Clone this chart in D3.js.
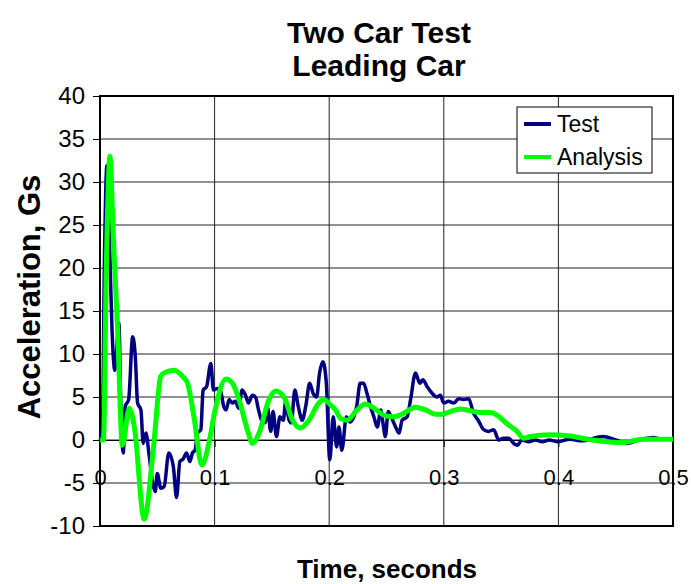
<!DOCTYPE html>
<html>
<head>
<meta charset="utf-8">
<script src="https://cdn.jsdelivr.net/npm/d3@7"></script>
<style>
  body { margin: 0; background: #fff; }
  text { font-family: "Liberation Sans", Arial, sans-serif; }
</style>
</head>
<body>
<div class="chart"></div>
<script>
// tick values
var xTicks = [0, 0.1, 0.2, 0.3, 0.4, 0.5];
var yTicks = [-10, -5, 0, 5, 10, 15, 20, 25, 30, 35, 40];

// Test series (time in s, acceleration in Gs)
var testTime = [0, 0.002, 0.004, 0.006, 0.0085, 0.0105, 0.013, 0.0165, 0.018, 0.0203,
    0.022, 0.025, 0.0285, 0.0308, 0.0328, 0.0357, 0.0377, 0.040, 0.043, 0.046,
    0.0482, 0.050, 0.053, 0.056, 0.060, 0.064, 0.0668, 0.0697, 0.0726, 0.0755,
    0.0784, 0.0807, 0.083, 0.085, 0.088, 0.090, 0.093, 0.0967, 0.099, 0.1025,
    0.105, 0.108, 0.110, 0.1127, 0.1155, 0.118, 0.121, 0.124, 0.127, 0.1295,
    0.133, 0.136, 0.138, 0.141, 0.144, 0.146, 0.149, 0.151, 0.154, 0.157,
    0.160, 0.162, 0.165, 0.167, 0.170, 0.173, 0.1765, 0.1795, 0.183, 0.186,
    0.189, 0.1916, 0.1945, 0.1975, 0.2005, 0.2035, 0.2065, 0.2085, 0.211, 0.215,
    0.218, 0.2215, 0.224, 0.227, 0.230, 0.233, 0.236, 0.239, 0.242, 0.245,
    0.247, 0.249, 0.2515, 0.254, 0.258, 0.261, 0.2636, 0.268, 0.271, 0.2753,
    0.279, 0.2817, 0.2855, 0.290, 0.294, 0.297, 0.300, 0.304, 0.3087, 0.313,
    0.3174, 0.3217, 0.326, 0.330, 0.3348, 0.339, 0.3435, 0.348, 0.352, 0.3565,
    0.361, 0.3644, 0.368, 0.374, 0.380, 0.386, 0.392, 0.3997, 0.41, 0.42,
    0.439, 0.45, 0.4596, 0.47, 0.483, 0.49];
var testAccel = [0, 1, 22, 31.9, 22, 12.8, 8.1, 13.6, 5, -1.5,
    3.9, 4.7, 12.0, 9.7, 4.3, 3.5, -0.4, 0.8, -1.9, -5.0,
    -6.0, -3.9, -5.6, -5.4, -1.5, -3.1, -6.7, -2.5, -2.2, -1.5,
    -2.5, -1.5, -1.2, 0.8, 1.2, 5.8, 6.2, 8.9, 5.8, 6.0,
    5.8, 3.9, 3.5, 4.7, 4.3, 4.5, 3.7, 5.8, 5.2, 4.3,
    5.2, 4.9, 3.7, 2.3, 2.0, 3.9, 1.0, 3.3, 0.4, 2.7,
    2.3, 4.5, 2.3, 2.0, 5.8, 3.9, 2.3, 3.9, 6.6, 5.4,
    5.0, 7.8, 9.1, 6.6, -2.3, 2.7, -0.8, 1.5, -1.2, 2.7,
    2.1, 2.7, 3.9, 6.6, 6.6, 5.4, 3.9, 2.7, 1.5, 3.5,
    1.9, 0.4, 3.3, 2.7, 1.5, 0.8, 2.3, 2.7, 4.7, 7.8,
    6.6, 7.0, 6.2, 5.4, 5.0, 5.2, 4.3, 4.5, 4.3, 4.8,
    4.7, 4.8, 3.1, 2.3, 1.2, 1.0, 1.2, 0, 0.2, 0.2,
    -0.4, -0.6, 0, -0.2, 0, -0.2, 0, -0.2, 0.1, -0.1,
    0.4, 0, -0.4, 0, 0.3, 0];

// Analysis series
var analysisTime = [0, 0.003, 0.0055, 0.0087, 0.0115, 0.0154, 0.0195, 0.0256, 0.030, 0.0386,
    0.047, 0.053, 0.0575, 0.0648, 0.072, 0.0764, 0.082, 0.0889, 0.095, 0.1005,
    0.1098, 0.1156, 0.1213, 0.1286, 0.133, 0.1388, 0.1475, 0.1533, 0.1606, 0.168,
    0.175, 0.1823, 0.191, 0.1954, 0.201, 0.2056, 0.21, 0.2158, 0.223, 0.2317,
    0.239, 0.2476, 0.2563, 0.265, 0.2753, 0.284, 0.2927, 0.2985, 0.3057, 0.3145,
    0.3232, 0.332, 0.3406, 0.3464, 0.355, 0.3639, 0.3696, 0.3754, 0.3929, 0.408,
    0.430, 0.456, 0.474, 0.5];
var analysisAccel = [0, 0, 20, 33, 24, 12.8, -0.6, 3.7, 1.5, -9.2,
    -0.4, 7.4, 7.9, 8.1, 7.4, 6.6, 2.7, -2.9, -0.4, 3.5,
    7.1, 6.6, 4.7, 1.2, -0.4, 0.8, 4.7, 5.7, 5.0, 2.3,
    1.4, 2.3, 4.3, 4.7, 4.1, 3.5, 2.5, 2.3, 3.3, 4.2,
    3.7, 2.9, 2.7, 3.1, 3.8, 3.5, 3.0, 3.0, 3.3, 3.6,
    3.4, 3.2, 3.2, 2.9, 1.9, 1.0, 0.2, 0.4, 0.6, 0.5,
    0, -0.3, 0.1, 0.1];

var seriesNames = ["Test", "Analysis"];
var seriesColors = ["#000080", "#00ff00"];

function zip(ts, vs) {
    return ts.map(function (t, i) { return { t: t, v: vs[i] }; });
}

function drawChart() {
    var series = [
        { name: seriesNames[0], color: seriesColors[0], width: 3.5, values: zip(testTime, testAccel) },
        { name: seriesNames[1], color: seriesColors[1], width: 5, values: zip(analysisTime, analysisAccel) }
    ];

    var W = 691, H = 584;
    var pl = 100, pr = 673, pt = 96, pb = 526;

    var svg = d3.select(".chart").append("svg")
        .attr("width", W).attr("height", H);

    var x = d3.scaleLinear().domain([0, 0.5]).range([pl, pr]);
    var y = d3.scaleLinear().domain([-10, 40]).range([pb, pt]);

    // gridlines
    svg.append("g").selectAll("line")
        .data(yTicks).enter().append("line")
        .attr("x1", pl).attr("x2", pr)
        .attr("y1", function (d) { return y(d); }).attr("y2", function (d) { return y(d); })
        .attr("stroke", "#222").attr("stroke-width", 1);
    svg.append("g").selectAll("line")
        .data(xTicks.slice(1, -1)).enter().append("line")
        .attr("x1", function (d) { return x(d); }).attr("x2", function (d) { return x(d); })
        .attr("y1", pt).attr("y2", pb)
        .attr("stroke", "#222").attr("stroke-width", 1);

    // y axis (hyphen minus like the original)
    var yAxis = svg.append("g").attr("transform", "translate(" + pl + ",0)")
        .call(d3.axisLeft(y).tickValues(yTicks).tickSize(7).tickPadding(8)
            .tickFormat(function (d) { return String(d); }));
    yAxis.select(".domain").remove();
    yAxis.selectAll("text").attr("font-size", 24).attr("fill", "#000")
        .attr("font-family", "Liberation Sans, Arial, sans-serif");
    yAxis.selectAll("line").attr("stroke", "#000");

    // x axis crossing at 0
    var xAxis = svg.append("g").attr("transform", "translate(0," + y(0) + ")")
        .call(d3.axisBottom(x).tickValues(xTicks).tickSize(7).tickPadding(22)
            .tickFormat(function (d) { return d === 0 ? "0" : d3.format(".1f")(d); }));
    xAxis.select(".domain").attr("stroke", "#000").attr("stroke-width", 1);
    xAxis.selectAll("text").attr("font-size", 22).attr("fill", "#000")
        .attr("font-family", "Liberation Sans, Arial, sans-serif");
    xAxis.selectAll("line").attr("stroke", "#000");

    // plot border
    svg.append("rect")
        .attr("x", pl).attr("y", pt)
        .attr("width", pr - pl).attr("height", pb - pt)
        .attr("fill", "none").attr("stroke", "#000").attr("stroke-width", 2);

    // series lines
    var line = d3.line()
        .x(function (d) { return x(d.t); })
        .y(function (d) { return y(d.v); })
        .curve(d3.curveMonotoneX);

    svg.append("g").selectAll("path")
        .data(series).enter().append("path")
        .attr("fill", "none")
        .attr("stroke", function (d) { return d.color; })
        .attr("stroke-width", function (d) { return d.width; })
        .attr("stroke-linejoin", "round")
        .attr("d", function (d) { return line(d.values); });

    // legend
    var lg = svg.append("g").attr("transform", "translate(517,107)");
    lg.append("rect").attr("width", 135).attr("height", 66)
        .attr("fill", "#fff").attr("stroke", "#000").attr("stroke-width", 1);
    series.forEach(function (s, i) {
        var ly = 17 + i * 33;
        lg.append("line").attr("x1", 7).attr("x2", 34).attr("y1", ly).attr("y2", ly)
            .attr("stroke", s.color).attr("stroke-width", 4);
        lg.append("text").attr("x", 40).attr("y", ly + 8).attr("font-size", 23)
            .text(s.name);
    });

    // titles
    svg.append("text").attr("x", 379).attr("y", 43).attr("text-anchor", "middle")
        .attr("font-size", 30).attr("font-weight", "bold").text("Two Car Test");
    svg.append("text").attr("x", 379).attr("y", 76).attr("text-anchor", "middle")
        .attr("font-size", 30).attr("font-weight", "bold").text("Leading Car");
    svg.append("text").attr("transform", "translate(40,297) rotate(-90)")
        .attr("text-anchor", "middle").attr("font-size", 31).attr("font-weight", "bold")
        .text("Acceleration, Gs");
    svg.append("text").attr("x", 387).attr("y", 578).attr("text-anchor", "middle")
        .attr("font-size", 26).attr("font-weight", "bold").text("Time, seconds");
}
drawChart();
</script>
</body>
</html>
